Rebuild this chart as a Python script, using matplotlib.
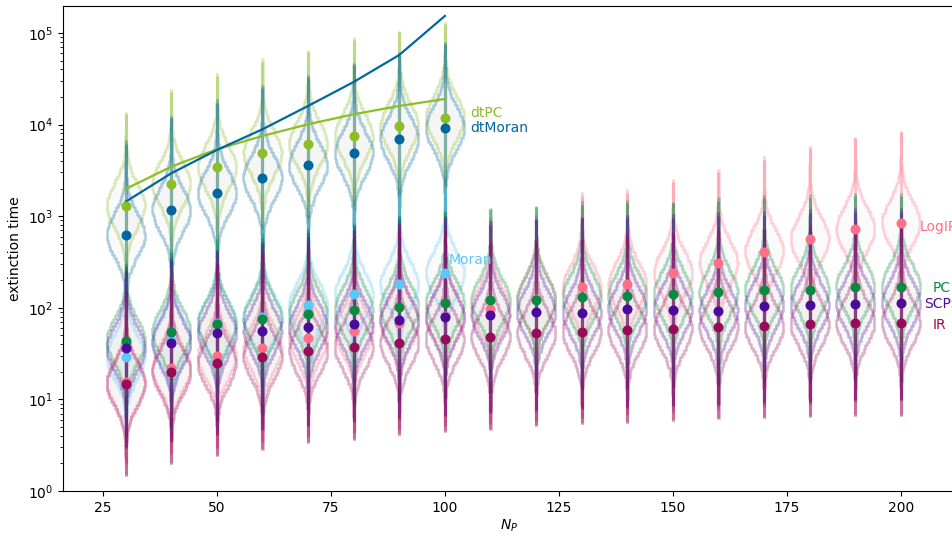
import numpy as np
import matplotlib
matplotlib.use('Agg')
import matplotlib.pyplot as plt

# population sizes
N_dt = [30, 40, 50, 60, 70, 80, 90, 100]
N_all = [30, 40, 50, 60, 70, 80, 90, 100, 110, 120, 130, 140, 150, 160, 170, 180, 190, 200]

# medians
dtPC_med = [1302, 2263, 3419, 4897, 6187, 7454, 9654, 11894]
dtMoran_med = [623, 1168, 1792, 2633, 3622, 4861, 6910, 9113]
Moran_med = [29.3, 44.5, 68.2, 80.0, 107, 140, 180, 238]
PC_med = [43.7, 54.8, 66.1, 74.9, 84.9, 94.6, 101, 112, 121, 122, 132, 136, 140, 148, 155, 158, 169, 170]
SCPS_med = [36.1, 41.6, 52.7, 56.2, 61.2, 66.6, 73.6, 78.8, 83.0, 89.5, 88.4, 96.3, 94.6, 92.3, 105, 106, 110, 112]
IR_med = [14.7, 20.1, 24.8, 29.3, 33.8, 37.6, 41.6, 45.3, 48.4, 52.8, 54.8, 57.2, 59.1, 61.7, 62.8, 67.1, 68.8, 68.8]
LogIP_med = [15.5, 22.1, 29.8, 36.1, 46.5, 55.8, 68.8, 82.0, 97.3, 125, 167, 180, 242, 311, 410, 560, 725, 849]

# whisker ends (min / max)
dtPC_lo = [40, 60, 90, 120, 160, 200, 260, 320]
dtPC_hi = [13000, 22500, 34000, 48000, 62000, 83000, 102000, 126000]
dtMoran_lo = [6, 10, 14, 20, 28, 38, 50, 65]
dtMoran_hi = [6100, 11700, 17000, 25000, 33000, 45000, 58000, 75000]
Moran_lo = [3.2, 4, 5, 6, 7, 8, 9, 10]
Moran_hi = [200, 350, 500, 700, 900, 1200, 1600, 2000]
PC_lo = [4, 5, 6, 7, 8, 9, 10, 11, 12, 12.5, 13, 13.5, 14, 14.5, 15, 15.5, 16, 16]
PC_hi = [300, 400, 500, 600, 700, 800, 1000, 1100, 1200, 1250, 1320, 1400, 1380, 1480, 1580, 1580, 1660, 1660]
SCPS_lo = [3, 3.5, 4.2, 4.8, 5.3, 5.8, 6.3, 6.8, 7.2, 7.6, 8, 8.3, 8.6, 9, 9.3, 9.6, 10, 10]
SCPS_hi = [250, 330, 420, 500, 600, 700, 850, 950, 800, 900, 950, 950, 950, 1000, 1030, 1070, 1120, 1120]
IR_lo = [1.5, 2.0, 2.5, 2.9, 3.4, 3.7, 4.2, 4.5, 4.8, 5.3, 5.5, 5.7, 6.0, 6.2, 6.4, 6.6, 6.75, 6.75]
IR_hi = [150, 200, 300, 380, 450, 550, 700, 700, 500, 510, 550, 600, 650, 700, 700, 750, 780, 800]
LogIP_lo = [2.0, 2.6, 3.0, 3.5, 4, 4.4, 4.8, 5.2, 5.5, 6, 6.5, 7, 7.5, 8, 8.5, 9, 9.5, 10]
LogIP_hi = [180, 250, 330, 420, 520, 650, 800, 900, 900, 1000, 1660, 1770, 2380, 3040, 4100, 5500, 7100, 8300]

# theory curves for the dt variants
dtPC_line = [1982, 3471, 5375, 7509, 10077, 12953, 15965, 19031]
dtMoran_line = [1440, 2940, 5282, 8884, 15965, 29180, 57520, 153300]

colors = {'dtPC': '#8cbe28', 'dtMoran': '#00679f', 'Moran': '#5ac8fa',
          'LogIP': '#ff7088', 'PC': '#0a8a40', 'SCPS': '#4b0a9c', 'IR': '#990a5a'}

series = [
    ('dtPC', N_dt, dtPC_med, dtPC_lo, dtPC_hi),
    ('dtMoran', N_dt, dtMoran_med, dtMoran_lo, dtMoran_hi),
    ('Moran', N_dt, Moran_med, Moran_lo, Moran_hi),
    ('LogIP', N_all, LogIP_med, LogIP_lo, LogIP_hi),
    ('PC', N_all, PC_med, PC_lo, PC_hi),
    ('SCPS', N_all, SCPS_med, SCPS_lo, SCPS_hi),
    ('IR', N_all, IR_med, IR_lo, IR_hi),
]

# label anchor (x, y) in data coords
label_pos = {'dtPC': (105.5, 13400), 'dtMoran': (105.5, 9180), 'Moran': (100.9, 332),
             'LogIP': (204.2, 762), 'PC': (207, 164), 'SCPS': (205, 110), 'IR': (207, 65)}

half = 4.2


def violin(ax, x, med, lo, hi, color):
    e = np.arange(np.log10(lo), np.log10(hi) + 0.04, 0.04)
    c = 0.5 * (e[:-1] + e[1:])
    d = c - np.log10(med)
    w = np.exp(-0.5 * (d / 0.24) ** 2) + 0.06 * np.exp(-np.abs(d) / 0.3)
    w = w / w.max() * half
    xs = np.repeat(w, 2)
    ys = 10 ** np.column_stack([e[:-1], e[1:]]).ravel()
    px = np.concatenate([x + xs, (x - xs)[::-1]])
    py = np.concatenate([ys, ys[::-1]])
    ax.fill(px, py, facecolor='#cfcfcf', alpha=0.1, edgecolor='none', zorder=1)
    ax.plot(px, py, color=color, alpha=0.32, lw=1.8, zorder=2)


fig = plt.figure(figsize=(9.53, 5.34), dpi=100)
ax = fig.add_axes([0.066, 0.0805, 0.9367, 0.9083])

for name, N, med, lo, hi in series:
    col = colors[name]
    ax.vlines(N, lo, hi, color=col, alpha=0.38, lw=2.3, zorder=2)
    for x, m, l, h in zip(N, med, lo, hi):
        violin(ax, x, m, l, h, col)

ax.plot(N_dt, dtPC_line, color=colors['dtPC'], lw=1.6, zorder=4)
ax.plot(N_dt, dtMoran_line, color=colors['dtMoran'], lw=1.6, zorder=4)

for name, N, med, lo, hi in series:
    ax.scatter(N, med, s=52, color=colors[name], zorder=5, linewidths=0)
    lx, ly = label_pos[name]
    ax.text(lx, ly, name, color=colors[name], fontsize=10, va='center', ha='left',
            clip_on=False, zorder=6)

ax.set_yscale('log')
ax.set_xlim(16.23, 212)
ax.set_ylim(1, 1.97e5)
ax.set_xticks([25, 50, 75, 100, 125, 150, 175, 200])
ax.set_xlabel('$N_P$', labelpad=2)
ax.set_ylabel('extinction time')

fig.savefig('out.png', dpi=100)
